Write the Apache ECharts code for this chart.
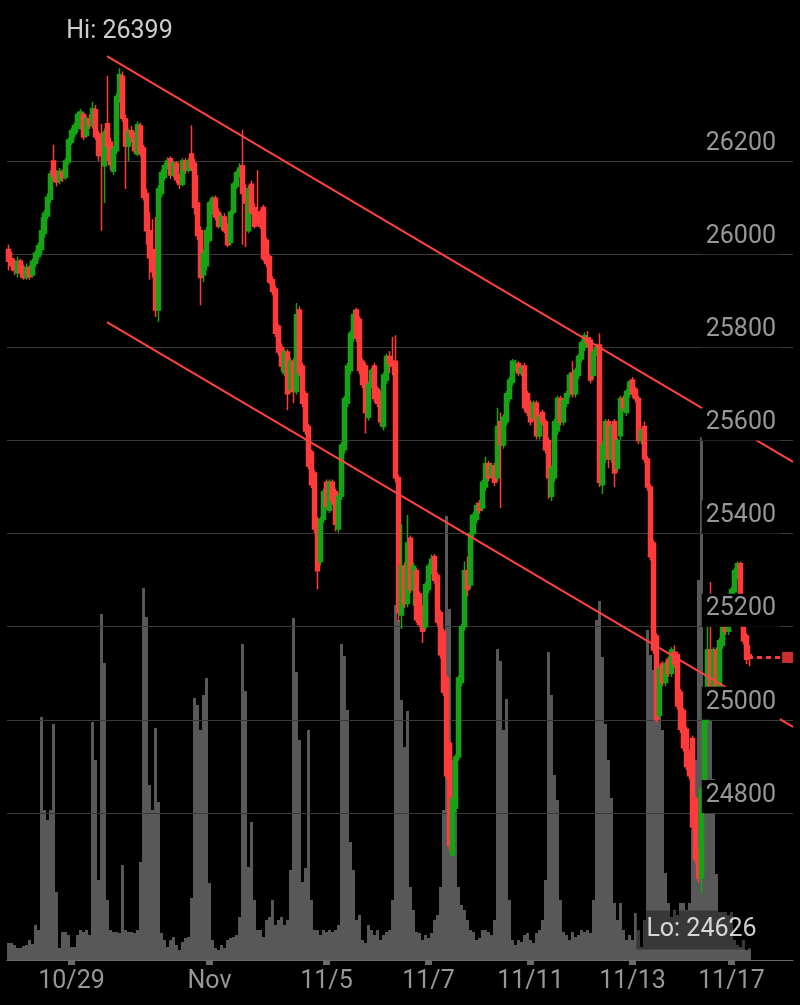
<!DOCTYPE html>
<html>
<head>
<meta charset="utf-8">
<script src="https://cdn.jsdelivr.net/npm/echarts@6/dist/echarts.min.js"></script>
<style>html,body{margin:0;padding:0;background:#000;}#c{width:800px;height:1005px;}</style>
</head>
<body>
<div id="c"></div>
<script>
// ---- data ----
// candles: [open, close, low, high], hourly
const ohlc = [
[26010,25985,25965,26020],[25990,25975,25965,26005],[25980,25965,25955,25990],[25960,25985,25950,25995],
[25985,25960,25950,25990],[25970,25950,25945,25978],[25950,25972,25945,25980],[25970,25952,25945,25976],
[25955,25985,25950,25990],[25980,26002,25972,26008],[25995,26018,25988,26025],[26010,26050,26000,26080],
[26045,26088,26035,26095],[26082,26122,26075,26130],[26118,26172,26110,26180],[26200,26168,26155,26235],
[26170,26155,26145,26180],[26158,26178,26150,26185],[26176,26164,26155,26182],[26165,26200,26160,26206],
[26198,26245,26192,26250],[26240,26265,26235,26272],[26258,26276,26250,26282],[26270,26300,26262,26306],
[26285,26305,26268,26312],[26300,26252,26245,26306],[26255,26290,26250,26296],[26290,26276,26268,26300],
[26276,26312,26270,26327],[26310,26252,26245,26320],[26258,26212,26200,26265],[26230,26212,26050,26280],
[26190,26262,26110,26270],[26280,26232,26200,26383],[26240,26192,26180,26250],[26178,26225,26170,26232],
[26222,26338,26215,26345],[26332,26385,26325,26399],[26382,26292,26285,26392],[26290,26232,26140,26300],
[26232,26262,26200,26270],[26265,26252,26240,26275],[26255,26222,26215,26262],[26215,26278,26210,26285],
[26275,26218,26210,26282],[26228,26122,26115,26235],[26130,26050,26020,26140],[26050,25992,25945,26090],
[26000,25962,25950,26075],[26010,25880,25865,26080],[25880,26140,25855,26148],[26130,26175,26122,26182],
[26165,26190,26158,26196],[26190,26200,26182,26208],[26205,26170,26162,26210],[26170,26195,26165,26200],
[26195,26160,26152,26200],[26165,26150,26140,26172],[26150,26200,26145,26206],[26200,26180,26172,26206],
[26180,26200,26175,26206],[26215,26185,26178,26277],[26195,26100,26085,26205],[26110,26040,26030,26170],
[26050,25950,25890,26060],[25955,26000,25940,26010],[25975,26050,25965,26058],[26030,26110,26025,26115],
[26090,26120,26085,26125],[26120,26080,26072,26126],[26090,26060,26055,26098],[26060,26080,26052,26086],
[26080,26050,26045,26088],[26060,26020,26015,26066],[26025,26090,26018,26095],[26090,26150,26084,26156],
[26145,26175,26140,26180],[26170,26185,26165,26195],[26190,26130,26020,26267],[26140,26110,26015,26150],
[26050,26140,26045,26148],[26150,26090,26085,26158],[26100,26060,26055,26108],[26090,26070,26062,26180],
[26090,26060,26054,26096],[26100,25990,25985,26106],[26030,25980,25972,26036],[25995,25940,25935,26000],
[25945,25920,25912,25952],[25925,25830,25822,25932],[25845,25790,25782,25850],[25800,25760,25748,25808],
[25745,25790,25738,25796],[25790,25700,25665,25796],[25710,25770,25702,25778],[25770,25705,25680,25776],
[25705,25870,25698,25895],[25880,25745,25738,25888],[25760,25680,25672,25766],[25700,25620,25612,25706],
[25630,25545,25538,25636],[25575,25505,25498,25580],[25530,25410,25402,25536],[25430,25320,25280,25436],
[25340,25430,25332,25436],[25430,25490,25422,25496],[25510,25460,25452,25516],[25450,25510,25444,25516],
[25510,25470,25462,25516],[25490,25420,25405,25496],[25410,25480,25402,25486],[25480,25590,25472,25596],
[25580,25690,25572,25696],[25680,25760,25672,25766],[25750,25830,25742,25836],[25820,25870,25812,25880],
[25880,25820,25812,25885],[25860,25750,25742,25866],[25770,25720,25712,25776],[25760,25660,25615,25766],
[25650,25720,25642,25726],[25720,25750,25712,25756],[25760,25690,25682,25766],[25710,25680,25672,25716],
[25700,25640,25630,25706],[25630,25740,25622,25746],[25730,25780,25722,25786],[25780,25765,25745,25792],
[25770,25760,25740,25822],[25770,25520,25510,25826],[25520,25230,25210,25526],[25225,25330,25195,25420],
[25330,25250,25240,25338],[25250,25380,25242,25440],[25390,25280,25272,25396],[25280,25330,25245,25338],
[25320,25215,25208,25326],[25270,25205,25200,25276],[25240,25190,25165,25246],[25200,25290,25192,25296],
[25280,25330,25272,25336],[25320,25345,25312,25355],[25350,25300,25292,25356],[25310,25210,25202,25316],
[25230,25140,25132,25236],[25190,25060,25052,25196],[25090,24880,24872,25096],[24950,24730,24718,24956],
[24710,24830,24705,24836],[24810,24920,24802,24926],[24920,25090,24912,25096],[25080,25200,25072,25206],
[25200,25320,25192,25340],[25320,25280,25265,25350],[25290,25400,25282,25440],[25400,25440,25392,25446],
[25430,25460,25422,25466],[25465,25450,25442,25472],[25455,25510,25448,25516],[25500,25550,25492,25565],
[25550,25520,25512,25556],[25525,25545,25518,25552],[25545,25510,25502,25552],[25520,25630,25512,25670],
[25640,25590,25455,25660],[25590,25650,25582,25656],[25640,25700,25632,25706],[25690,25730,25682,25736],
[25725,25770,25718,25775],[25760,25762,25748,25773],[25765,25745,25738,25770],[25745,25755,25738,25762],
[25760,25670,25662,25766],[25700,25660,25652,25706],[25680,25640,25632,25686],[25650,25680,25642,25686],
[25680,25610,25602,25686],[25610,25650,25602,25656],[25660,25640,25632,25666],[25640,25580,25572,25646],
[25600,25520,25475,25606],[25480,25540,25470,25546],[25520,25640,25512,25646],[25620,25690,25612,25696],
[25690,25640,25632,25696],[25640,25685,25632,25690],[25680,25700,25672,25706],[25700,25740,25692,25746],
[25745,25700,25692,25770],[25700,25750,25692,25756],[25740,25780,25732,25786],[25775,25810,25768,25816],
[25800,25825,25792,25832],[25820,25810,25800,25835],[25815,25730,25722,25822],[25740,25790,25732,25796],
[25790,25800,25782,25808],[25805,25510,25500,25830],[25505,25590,25485,25596],[25560,25640,25552,25646],
[25640,25560,25540,25646],[25560,25630,25552,25636],[25640,25530,25500,25646],[25540,25600,25532,25606],
[25610,25690,25602,25696],[25690,25670,25662,25696],[25660,25705,25652,25710],[25700,25725,25692,25730],
[25730,25700,25692,25736],[25710,25690,25682,25716],[25690,25600,25592,25696],[25600,25620,25592,25626],
[25630,25560,25552,25640],[25560,25500,25492,25566],[25500,25350,25342,25506],[25380,25150,25142,25386],
[25180,25000,24995,25186],[25010,25110,25002,25116],[25120,25080,25072,25126],[25080,25120,25072,25126],
[25130,25100,25092,25136],[25100,25150,25092,25156],[25145,25120,25112,25160],[25140,25030,25022,25146],
[25060,24980,24972,25066],[25020,24940,24932,25026],[24980,24900,24892,24986],[24930,24880,24872,24936],
[24960,24770,24762,24966],[24830,24700,24692,24836],[24720,24660,24650,24726],[24660,24850,24626,24856],
[24840,25020,24832,25026],[25000,25150,24992,25220],[25150,25060,25052,25296],[25060,25150,25052,25156],
[25150,25050,25040,25156],[25050,25170,25042,25176],[25160,25200,25152,25206],[25200,25190,25182,25210],
[25190,25250,25182,25256],[25250,25280,25242,25286],[25275,25320,25268,25326],[25310,25335,25302,25340],
[25335,25240,25232,25340],[25250,25170,25162,25256],[25180,25130,25120,25186],[25140,25134,25115,25160]
];
const volumes = [
17,17,15,12,12,14,15,20,16,35,30,243,150,140,150,236,68,12,28,28,25,13,13,25,30,28,30,25,
238,200,80,346,297,60,30,28,28,27,95,30,28,28,27,30,98,372,343,175,150,232,158,27,20,13,20,23,
15,10,18,22,23,62,262,255,230,265,282,77,20,12,10,15,12,20,22,23,25,43,316,269,93,138,60,30,
30,23,40,43,60,35,40,43,35,40,90,342,288,220,78,92,230,60,30,30,25,30,28,30,28,30,35,316,
304,250,118,90,40,45,20,17,35,30,25,30,20,25,28,30,60,355,340,260,213,249,73,50,28,27,20,25,
22,27,40,45,73,150,444,351,200,150,73,55,50,40,30,28,20,22,30,30,28,25,40,311,299,230,261,60,
20,15,20,18,25,27,20,17,27,30,40,80,308,265,185,160,60,28,25,20,28,23,25,30,28,30,27,60,
340,359,303,236,200,162,57,40,57,30,20,25,20,47,30,13,40,330,305,290,270,250,230,87,57,43,50,45,
57,57,50,57,130,200,380,523,240,240,240,181,86,48,48,48,45,48,20,15,13,20,10,12
];
// x-axis tick labels and the category slot they sit on
const tickLabels = ['10/29','Nov','11/5','11/7','11/11','11/13','11/17'];
const tickSlots  = [21, 67, 106, 140, 174, 208, 241];
// price-axis ticks
const priceMin = 24800, priceMax = 26200, priceStep = 200;
// channel trend lines: [slot, price]
const trendUpper = [[32.8, 26425], [261.5, 25554]];
const trendLower = [[32.8, 25854], [261.5, 24985]];

// ---- chart ----
const NCAT = 262;
const cats = Array.from({length: NCAT}, (_, i) => String(i));
const slotLabel = {};
tickSlots.forEach((s, k) => { slotLabel[s] = tickLabels[k]; });
const isTick = (i) => slotLabel[i] !== undefined;
const N = ohlc.length;
const lastClose = ohlc[N - 1][1];
let hiIdx = 0, loIdx = 0;
ohlc.forEach((d, i) => {
  if (d[3] > ohlc[hiIdx][3]) hiIdx = i;
  if (d[2] < ohlc[loIdx][2]) loIdx = i;
});
const hiVal = ohlc[hiIdx][3], loVal = ohlc[loIdx][2];

const UP = '#17a317', DOWN = '#ff3b3b', LINE = '#ff4242';
const FONT = 'Roboto';
const extremeLabel = {show: true, position: 'inside', color: '#fff', fontSize: 25, fontFamily: FONT,
                      backgroundColor: 'rgba(0,0,0,0.45)', padding: [7, 10]};

const chart = echarts.init(document.getElementById('c'), null, {renderer: 'canvas'});
chart.setOption({
  backgroundColor: '#000',
  animation: false,
  grid: [
    {left: 7, right: 7, top: 161, bottom: 192},
    {left: 7, right: 7, top: 360, bottom: 45}
  ],
  xAxis: [
    {type: 'category', gridIndex: 0, data: cats, show: false, boundaryGap: true},
    {type: 'value', gridIndex: 0, min: -0.5, max: NCAT - 0.5, show: false},
    {type: 'category', gridIndex: 1, data: cats, boundaryGap: true,
     axisLine: {lineStyle: {color: '#6b6b6b', width: 1}},
     axisTick: {show: true, alignWithLabel: true, interval: (i) => isTick(i), length: 5,
                lineStyle: {color: '#6b6b6b', width: 7}},
     axisLabel: {interval: (i) => isTick(i), formatter: (v, i) => slotLabel[i] || '',
                 color: '#979797', fontSize: 25, fontFamily: FONT, margin: 9},
     splitLine: {show: false}}
  ],
  yAxis: [
    {type: 'value', gridIndex: 0, position: 'right', min: priceMin, max: priceMax, interval: priceStep, z: 1,
     axisLine: {show: false}, axisTick: {show: false}, axisLabel: {show: false},
     splitLine: {show: true, lineStyle: {color: '#3a3a3a', width: 1}}},
    {type: 'value', gridIndex: 0, position: 'right', min: priceMin, max: priceMax, interval: priceStep, z: 10,
     axisLine: {show: false}, axisTick: {show: false}, splitLine: {show: false},
     axisLabel: {inside: true, margin: 13, color: '#979797', fontSize: 25, fontFamily: FONT,
                 formatter: (v) => String(v),
                 verticalAlign: 'bottom', backgroundColor: '#000', padding: [3, 4, 5, 4]}},
    {type: 'value', gridIndex: 1, min: 0, max: 600, show: false}
  ],
  series: [
    {type: 'bar', name: 'vol', xAxisIndex: 2, yAxisIndex: 2, data: volumes, barWidth: '100%', z: 0,
     silent: true, itemStyle: {color: '#585858'}},
    {type: 'candlestick', name: 'price', xAxisIndex: 0, yAxisIndex: 0, data: ohlc, clip: false,
     barWidth: 4, z: 2,
     itemStyle: {color: UP, color0: DOWN, borderColor: UP, borderColor0: DOWN, borderWidth: 1.5}},
    {type: 'line', xAxisIndex: 1, yAxisIndex: 0, data: trendUpper, symbol: 'none', clip: false, z: 3,
     silent: true, lineStyle: {color: LINE, width: 2}},
    {type: 'line', xAxisIndex: 1, yAxisIndex: 0, data: trendLower, symbol: 'none', clip: false, z: 3,
     silent: true, lineStyle: {color: LINE, width: 2}},
    {type: 'line', xAxisIndex: 1, yAxisIndex: 0, data: [[N - 1.5, lastClose], [N + 9.2, lastClose]],
     symbol: 'none', clip: false, z: 3, silent: true,
     lineStyle: {color: DOWN, width: 3, type: [5, 4]}},
    {type: 'scatter', xAxisIndex: 1, yAxisIndex: 0, data: [[N + 11.7, lastClose]], symbol: 'rect',
     symbolSize: 11, clip: false, z: 3, silent: true, itemStyle: {color: DOWN}},
    {type: 'scatter', xAxisIndex: 1, yAxisIndex: 0, clip: false, z: 12, silent: true,
     symbolSize: 0, itemStyle: {color: 'rgba(0,0,0,0)'},
     data: [
       {value: [hiIdx, hiVal], label: Object.assign({}, extremeLabel, {offset: [0, -37], formatter: 'Hi: ' + hiVal})},
       {value: [loIdx, loVal], label: Object.assign({}, extremeLabel, {offset: [0, 36], formatter: 'Lo: ' + loVal})}
     ]}
  ]
});
</script>
</body>
</html>
